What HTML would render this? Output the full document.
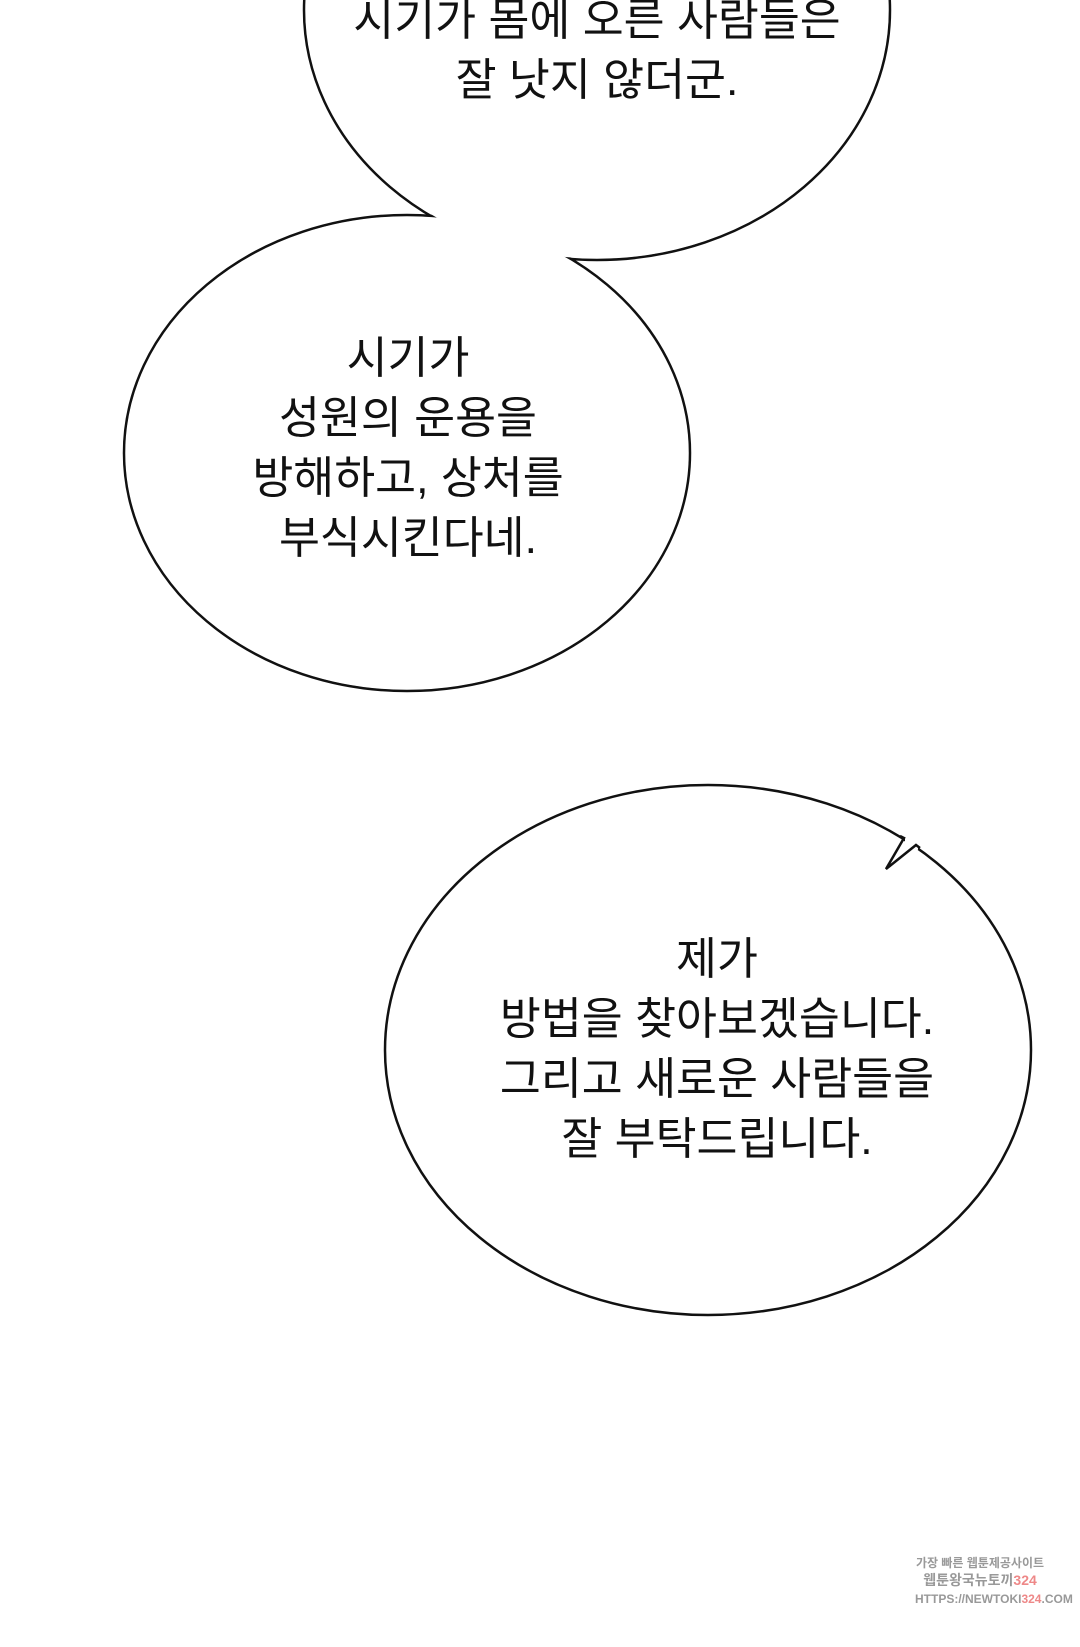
<!DOCTYPE html>
<html><head><meta charset="utf-8"><style>
html,body{margin:0;padding:0;background:#fff;}
body{width:1080px;height:1647px;position:relative;overflow:hidden;font-family:"Liberation Sans","Noto Sans CJK KR","NanumGothic",sans-serif;}
.t{position:absolute;text-align:center;font-size:44.5px;color:#111;line-height:60px;white-space:nowrap;transform:translateX(-50%);}
.wm{position:absolute;left:915px;width:130px;text-align:center;font-size:12px;font-weight:bold;color:#999;line-height:16px;}
</style></head><body>
<svg width="1080" height="1647" style="position:absolute;left:0;top:0">
<g stroke="#111" stroke-width="2.5" fill="#fff">
<ellipse cx="597" cy="10" rx="293" ry="250"/>
<ellipse cx="407" cy="453" rx="283" ry="238"/>
</g>
<g fill="#fff">
<ellipse cx="597" cy="10" rx="291.5" ry="248.5"/>
<ellipse cx="407" cy="453" rx="281.5" ry="236.5"/>
</g>
<ellipse cx="708" cy="1050" rx="323" ry="265" stroke="#111" stroke-width="2.5" fill="#fff"/>
<polygon points="905,835 918,835 918,850 905,846" fill="#fff"/>
<polyline points="900,836 904,838 886,869 916,845 920,848" fill="none" stroke="#111" stroke-width="2.5" stroke-linejoin="miter"/>
</svg>
<div class="t" style="left:597px;top:-9px">시기가 몸에 오른 사람들은<br>잘 낫지 않더군.</div>
<div class="t" style="left:408px;top:329px">시기가<br>성원의 운용을<br>방해하고, 상처를<br>부식시킨다네.</div>
<div class="t" style="left:717px;top:930px">제가<br>방법을 찾아보겠습니다.<br>그리고 새로운 사람들을<br>잘 부탁드립니다.</div>
<div class="wm" style="top:1555px">가장 빠른 웹툰제공사이트</div>
<div class="wm" style="top:1572px;font-size:14px">웹툰왕국뉴토끼<span style="color:#e88">324</span></div>
<div class="wm" style="top:1591px">HTTPS://NEWTOKI<span style="color:#e88">324</span>.COM</div>
</body></html>
